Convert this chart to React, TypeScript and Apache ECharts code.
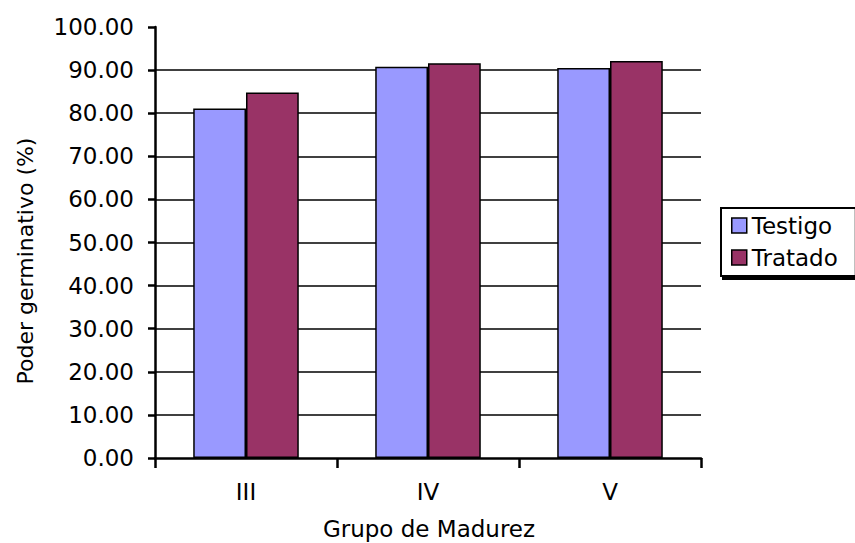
import React, { useEffect, useRef } from "react";
import * as echarts from "echarts";

const categories = ["III", "IV", "V"];
const testigo = [81.1, 90.8, 90.5];
const tratado = [84.8, 91.6, 92.1];
const seriesNames = ["Testigo", "Tratado"];
const yAxisTitle = "Poder germinativo (%)";
const xAxisTitle = "Grupo de Madurez";

const FONT = "DejaVu Sans, Verdana, sans-serif";

export default function App() {
  const ref = useRef<HTMLDivElement>(null);
  useEffect(() => {
    if (!ref.current) return;
    const chart = echarts.init(ref.current, null, { renderer: "svg" });
    chart.setOption({
      animation: false,
      backgroundColor: "#ffffff",
      textStyle: { fontFamily: FONT, color: "#000" },
      grid: { left: 155, right: 154, top: 27, bottom: 85, containLabel: false },
      legend: {
        orient: "vertical",
        left: 721,
        top: 208,
        padding: [6, 18, 7, 10],
        itemGap: 9,
        itemWidth: 15,
        itemHeight: 15,
        icon: "rect",
        borderColor: "#000",
        borderWidth: 2,
        borderRadius: 0,
        backgroundColor: "#fff",
        shadowColor: "#000",
        shadowOffsetX: 2,
        shadowOffsetY: 3,
        shadowBlur: 0,
        textStyle: { fontFamily: FONT, fontSize: 23, color: "#000" },
        itemStyle: { borderColor: "#000", borderWidth: 1.5 },
        data: seriesNames,
      },
      xAxis: {
        type: "category",
        data: categories,
        axisLine: { show: true, lineStyle: { color: "#000", width: 2.5 } },
        axisTick: { show: true, length: 10, alignWithLabel: false, lineStyle: { color: "#000", width: 2.5 } },
        axisLabel: { fontFamily: FONT, fontSize: 23, color: "#000", margin: 22 },
        splitLine: { show: false },
      },
      yAxis: {
        type: "value",
        min: 0,
        max: 100,
        interval: 10,
        axisLine: { show: true, lineStyle: { color: "#000", width: 2.5 } },
        axisTick: { show: true, length: 7, inside: false, lineStyle: { color: "#000", width: 2.5 } },
        axisLabel: {
          fontFamily: FONT,
          fontSize: 23,
          color: "#000",
          margin: 21,
          formatter: (v: number) => v.toFixed(2),
        },
        splitLine: { show: true, showMinLine: false, showMaxLine: false, lineStyle: { color: "#000", width: 1.6 } },
      },
      graphic: [
        {
          type: "text",
          x: 25,
          y: 261,
          rotation: Math.PI / 2,
          style: {
            text: yAxisTitle,
            fontFamily: FONT,
            fontSize: 22,
            fill: "#000",
            textAlign: "center",
            textVerticalAlign: "middle",
          },
        },
        {
          type: "text",
          x: 429,
          y: 529,
          style: {
            text: xAxisTitle,
            fontFamily: FONT,
            fontSize: 23,
            fill: "#000",
            textAlign: "center",
            textVerticalAlign: "middle",
          },
        },
      ],
      series: [
        {
          name: seriesNames[0],
          type: "bar",
          data: testigo,
          barGap: "0%",
          barCategoryGap: "42%",
          itemStyle: { color: "#9999FF", borderColor: "#000", borderWidth: 1.5 },
        },
        {
          name: seriesNames[1],
          type: "bar",
          data: tratado,
          barGap: "0%",
          barCategoryGap: "42%",
          itemStyle: { color: "#993366", borderColor: "#000", borderWidth: 1.5 },
        },
      ],
    });
    return () => chart.dispose();
  }, []);
  return (
    <div
      ref={ref}
      style={{ position: "absolute", left: 0, top: 0, width: 855, height: 543 }}
    />
  );
}
